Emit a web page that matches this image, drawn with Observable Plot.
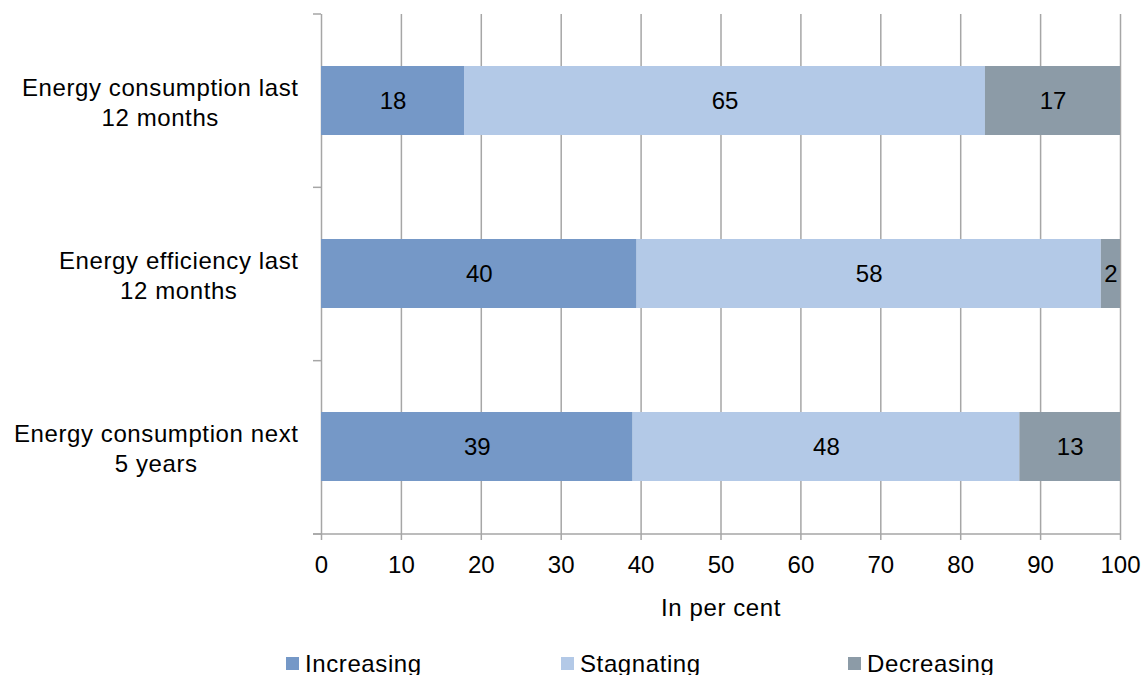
<!DOCTYPE html>
<html><head><meta charset="utf-8">
<script src="https://cdn.jsdelivr.net/npm/d3@7"></script>
<script src="https://cdn.jsdelivr.net/npm/@observablehq/plot@0.6"></script>
<style>
body{margin:0;background:#fff;font-family:"Liberation Sans",Arial,sans-serif;}
#wrap{position:relative;width:1147px;height:675px;overflow:hidden;background:#fff;}
#chart svg text.word{letter-spacing:0.6px;}
.leg{position:absolute;top:652px;font-size:24px;line-height:24px;letter-spacing:0.6px;white-space:nowrap;color:#000;}
.sw{position:absolute;top:657px;width:13px;height:13px;}
</style></head><body>
<div id="wrap"><div id="chart"></div></div>
<script>
const categories = ["Energy consumption last\n12 months", "Energy efficiency last\n12 months", "Energy consumption next\n5 years"];
const series = ["Increasing", "Stagnating", "Decreasing"];
const increasing = [17.9, 39.5, 39.0];
const stagnating = [65.2, 58.1, 48.4];
const decreasing = [16.9, 2.4, 12.6];
const colors = ["#7598c7", "#b3c9e7", "#8c9ba7"];
const xTicks = [0, 10, 20, 30, 40, 50, 60, 70, 80, 90, 100];
const xLabel = "In per cent";
const gridColor = "#a6a6a6";

const values = [increasing, stagnating, decreasing];
const data = [];
categories.forEach((c, i) => series.forEach((s, j) => data.push({category: c, series: s, value: values[j][i]})));

const ctx = document.createElement("canvas").getContext("2d");
ctx.font = '24px "Liberation Sans"';
function labelWidth(t) { return d3.max(t.split("\n"), l => ctx.measureText(l).width + 0.6 * l.length); }

function axisLines(index, scales, vals, dim) {
  const {width, height, marginTop, marginBottom, marginLeft, marginRight} = dim;
  const bottom = height - marginBottom;
  const n = categories.length;
  const step = (bottom - marginTop) / n;
  const g = d3.create("svg:g").attr("stroke", gridColor).attr("stroke-width", 1.5);
  for (let i = 0; i <= n; i++) {
    const y = marginTop + i * step;
    g.append("line").attr("x1", marginLeft - 8).attr("x2", marginLeft).attr("y1", y).attr("y2", y);
  }
  g.append("line").attr("x1", marginLeft - 8).attr("x2", width - marginRight).attr("y1", bottom).attr("y2", bottom);
  return g.node();
}

const plot = Plot.plot({
  width: 1147,
  height: 645,
  marginTop: 14,
  marginBottom: 111,
  marginLeft: 321,
  marginRight: 27,
  style: {fontFamily: '"Liberation Sans", Arial, sans-serif', fontSize: "24px", color: "#000", background: "#fff"},
  x: {domain: [0, 100]},
  y: {domain: categories, paddingInner: 0.6, paddingOuter: 0.3, axis: null},
  color: {domain: series, range: colors},
  marks: [
    Plot.ruleX(xTicks, {stroke: gridColor, strokeWidth: 1.5}),
    Plot.barX(data, Plot.stackX({x: "value", y: "category", fill: "series"})),
    Plot.text(data, Plot.stackX({x: "value", y: "category", z: "series", text: d => Math.round(d.value), fontSize: 24, fill: "#000"})),
    axisLines,
    Plot.axisX({ticks: xTicks, tickSize: 6, tickPadding: 15, fontSize: 24, stroke: gridColor, strokeWidth: 1.5, label: null, fill: "#000"}),
    Plot.text([xLabel], {text: d => d, frameAnchor: "bottom", lineAnchor: "top", dy: 64, fontSize: 24, fill: "#000", className: "word"}),
    ...categories.map(c => Plot.text([c], {y: d => d, text: d => d, frameAnchor: "left", textAnchor: "middle", lineAnchor: "middle", lineHeight: 1.25, fontSize: 24, fill: "#000", dx: -23 - labelWidth(c) / 2, className: "word"}))
  ]
});
document.getElementById("chart").appendChild(plot);
// add class on text elements of word marks
plot.querySelectorAll("g.word text, text.word").forEach(t => t.classList.add("word"));

const wrap = document.getElementById("wrap");
const legendX = [286, 561, 848];
series.forEach((s, i) => {
  const sw = document.createElement("div");
  sw.className = "sw";
  sw.style.left = legendX[i] + "px";
  sw.style.background = colors[i];
  wrap.appendChild(sw);
  const t = document.createElement("div");
  t.className = "leg";
  t.style.left = (legendX[i] + 19) + "px";
  t.textContent = s;
  wrap.appendChild(t);
});
</script>
</body></html>
